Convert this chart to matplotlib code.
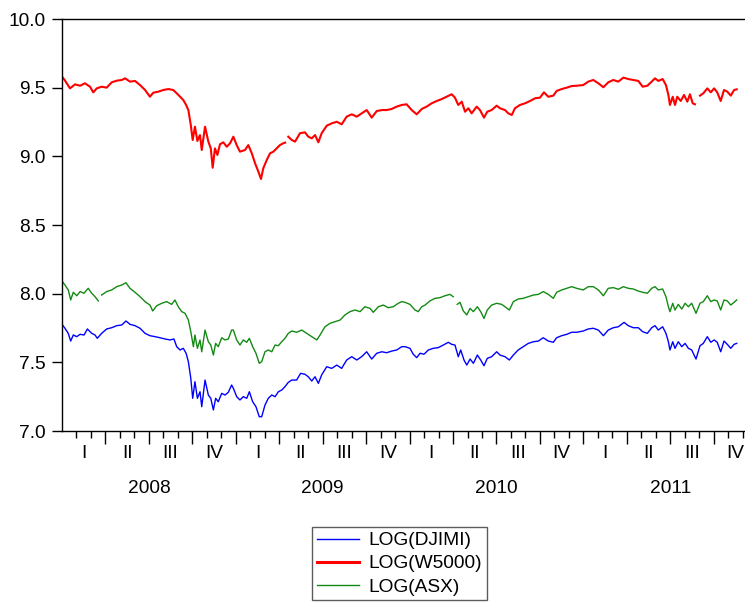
import numpy as np
import matplotlib
matplotlib.use("Agg")
import matplotlib.pyplot as plt
import matplotlib.transforms as mtransforms

plt.rcParams['font.family'] = ['Liberation Sans', 'DejaVu Sans']

NAN = float('nan')
BASE_YEAR = 2008

# ---- LOG(W5000): time (years since 2008-01-01) and value ----
w5000_t = [0.000, 0.015, 0.046, 0.075, 0.104, 0.132, 0.161, 0.180, 0.200, 0.228,
           0.257, 0.286, 0.315, 0.344, 0.363, 0.391, 0.420, 0.449, 0.478, 0.506,
           0.525, 0.554, 0.583, 0.612, 0.640, 0.660, 0.679, 0.698, 0.714, 0.727,
           0.741, 0.752, 0.765, 0.779, 0.794, 0.804, 0.823, 0.842, 0.856, 0.867,
           0.880, 0.894, 0.909, 0.928, 0.948, 0.967, 0.986, 1.005, 1.024, 1.053,
           1.072, 1.092, 1.111, 1.130, 1.145, 1.158, 1.178, 1.197, 1.216, 1.235,
           1.254, 1.273, 1.284, 1.292, 1.302, 1.322, 1.341, 1.369, 1.398, 1.417,
           1.437, 1.456, 1.475, 1.494, 1.523, 1.552, 1.581, 1.609, 1.638, 1.667,
           1.696, 1.724, 1.753, 1.782, 1.811, 1.840, 1.868, 1.897, 1.926, 1.955,
           1.983, 2.012, 2.041, 2.070, 2.098, 2.127, 2.156, 2.185, 2.213, 2.242,
           2.261, 2.280, 2.300, 2.319, 2.338, 2.357, 2.386, 2.405, 2.428, 2.447,
           2.472, 2.501, 2.520, 2.549, 2.568, 2.588, 2.606, 2.635, 2.664, 2.693,
           2.722, 2.750, 2.773, 2.798, 2.827, 2.846, 2.875, 2.904, 2.933, 2.961,
           2.999, 3.028, 3.057, 3.086, 3.115, 3.143, 3.172, 3.201, 3.230, 3.258,
           3.287, 3.316, 3.341, 3.368, 3.393, 3.412, 3.431, 3.456, 3.475, 3.489,
           3.498, 3.514, 3.527, 3.540, 3.560, 3.579, 3.598, 3.613, 3.629, 3.642,
           3.655, 3.671, 3.690, 3.713, 3.733, 3.752, 3.770, 3.790, 3.809, 3.828,
           3.848, 3.867, 3.882]
w5000_v = [9.580, 9.556, 9.495, 9.524, 9.514, 9.532, 9.507, 9.466, 9.495, 9.507,
           9.500, 9.539, 9.551, 9.556, 9.568, 9.544, 9.549, 9.519, 9.483, 9.434,
           9.463, 9.471, 9.483, 9.490, 9.483, 9.459, 9.434, 9.410, 9.374, 9.337,
           9.228, 9.119, 9.216, 9.112, 9.155, 9.046, 9.216, 9.107, 9.058, 8.917,
           9.058, 9.010, 9.088, 9.102, 9.070, 9.095, 9.143, 9.082, 9.034, 9.046,
           9.082, 9.022, 8.949, 8.888, 8.835, 8.913, 8.973, 9.022, 9.034, 9.058,
           9.082, 9.095, 9.100, NAN, 9.143, 9.119, 9.107, 9.168, 9.175, 9.143,
           9.131, 9.155, 9.102, 9.168, 9.223, 9.240, 9.252, 9.233, 9.289, 9.306,
           9.289, 9.313, 9.337, 9.282, 9.330, 9.337, 9.337, 9.345, 9.362, 9.374,
           9.379, 9.337, 9.306, 9.345, 9.362, 9.386, 9.403, 9.417, 9.434, 9.452,
           9.427, 9.374, 9.398, 9.325, 9.350, 9.313, 9.362, 9.337, 9.282, 9.325,
           9.337, 9.369, 9.350, 9.337, 9.313, 9.301, 9.350, 9.374, 9.386, 9.403,
           9.423, 9.427, 9.466, 9.434, 9.442, 9.476, 9.490, 9.500, 9.512, 9.514,
           9.519, 9.544, 9.556, 9.532, 9.503, 9.539, 9.556, 9.544, 9.573, 9.563,
           9.556, 9.549, 9.507, 9.514, 9.544, 9.568, 9.549, 9.563, 9.519, 9.447,
           9.374, 9.434, 9.374, 9.434, 9.403, 9.447, 9.398, 9.452, 9.386, 9.379,
           NAN, 9.442, 9.459, 9.495, 9.466, 9.495, 9.466, 9.403, 9.483, 9.471,
           9.442, 9.483, 9.488]

# ---- LOG(ASX) ----
asx_t = [0.000, 0.017, 0.036, 0.050, 0.065, 0.085, 0.104, 0.127, 0.142, 0.151,
         0.171, 0.190, 0.209, 0.218, 0.228, 0.257, 0.286, 0.315, 0.344, 0.368,
         0.391, 0.420, 0.449, 0.478, 0.506, 0.522, 0.545, 0.574, 0.602, 0.631,
         0.650, 0.669, 0.689, 0.708, 0.727, 0.741, 0.756, 0.765, 0.779, 0.794,
         0.804, 0.823, 0.842, 0.856, 0.871, 0.884, 0.899, 0.919, 0.938, 0.957,
         0.976, 0.986, 1.005, 1.024, 1.043, 1.063, 1.078, 1.097, 1.116, 1.135,
         1.149, 1.168, 1.187, 1.207, 1.226, 1.245, 1.264, 1.283, 1.302, 1.322,
         1.350, 1.379, 1.408, 1.437, 1.466, 1.485, 1.513, 1.542, 1.571, 1.600,
         1.628, 1.657, 1.686, 1.715, 1.743, 1.772, 1.791, 1.820, 1.849, 1.877,
         1.906, 1.935, 1.955, 1.974, 2.002, 2.031, 2.050, 2.070, 2.089, 2.117,
         2.146, 2.175, 2.204, 2.232, 2.251, 2.263, 2.274, 2.290, 2.309, 2.329,
         2.348, 2.367, 2.390, 2.409, 2.428, 2.447, 2.472, 2.501, 2.530, 2.549,
         2.574, 2.597, 2.625, 2.654, 2.683, 2.712, 2.741, 2.769, 2.798, 2.827,
         2.846, 2.875, 2.904, 2.933, 2.961, 2.999, 3.028, 3.057, 3.086, 3.115,
         3.143, 3.172, 3.201, 3.230, 3.258, 3.287, 3.316, 3.341, 3.368, 3.393,
         3.412, 3.431, 3.456, 3.475, 3.489, 3.498, 3.514, 3.527, 3.546, 3.566,
         3.585, 3.604, 3.623, 3.648, 3.671, 3.690, 3.713, 3.733, 3.752, 3.770,
         3.790, 3.809, 3.828, 3.848, 3.867, 3.882]
asx_v = [8.092, 8.063, 8.027, 7.954, 8.010, 7.985, 8.015, 8.003, 8.027, 8.039,
         8.003, 7.978, 7.947, NAN, 7.990, 8.015, 8.027, 8.051, 8.063, 8.080,
         8.039, 8.010, 7.978, 7.942, 7.917, 7.874, 7.912, 7.930, 7.942, 7.922,
         7.954, 7.905, 7.869, 7.857, 7.808, 7.723, 7.614, 7.699, 7.602, 7.663,
         7.577, 7.735, 7.650, 7.626, 7.553, 7.638, 7.614, 7.679, 7.663, 7.670,
         7.735, 7.735, 7.663, 7.626, 7.663, 7.646, 7.675, 7.614, 7.566, 7.493,
         7.505, 7.577, 7.590, 7.577, 7.626, 7.621, 7.650, 7.675, 7.711, 7.728,
         7.719, 7.735, 7.711, 7.687, 7.663, 7.699, 7.759, 7.784, 7.796, 7.808,
         7.845, 7.869, 7.881, 7.869, 7.905, 7.893, 7.864, 7.905, 7.917, 7.898,
         7.905, 7.930, 7.942, 7.937, 7.922, 7.881, 7.869, 7.905, 7.917, 7.947,
         7.966, 7.971, 7.985, 7.995, 7.978, NAN, 7.922, 7.937, 7.874, 7.845,
         7.893, 7.869, 7.905, 7.869, 7.820, 7.881, 7.917, 7.930, 7.922, 7.905,
         7.881, 7.942, 7.961, 7.966, 7.978, 7.990, 7.995, 8.015, 7.995, 7.966,
         8.010, 8.027, 8.039, 8.051, 8.039, 8.027, 8.051, 8.051, 8.027, 7.985,
         8.039, 8.044, 8.032, 8.051, 8.039, 8.034, 8.019, 8.010, 8.003, 8.039,
         8.051, 8.027, 8.034, 7.978, 7.905, 7.869, 7.930, 7.881, 7.922, 7.888,
         7.930, 7.905, 7.930, 7.857, 7.930, 7.942, 7.985, 7.942, 7.954, 7.947,
         7.881, 7.954, 7.947, 7.917, 7.937, 7.954]

# ---- LOG(DJIMI) ----
djimi_t = [0.000, 0.017, 0.036, 0.050, 0.065, 0.085, 0.104, 0.127, 0.146, 0.171,
           0.190, 0.203, 0.228, 0.257, 0.286, 0.315, 0.344, 0.368, 0.391, 0.420,
           0.449, 0.478, 0.506, 0.535, 0.564, 0.593, 0.621, 0.644, 0.660, 0.679,
           0.698, 0.714, 0.727, 0.741, 0.752, 0.765, 0.779, 0.794, 0.804, 0.823,
           0.842, 0.856, 0.871, 0.884, 0.899, 0.919, 0.938, 0.957, 0.976, 0.986,
           1.005, 1.024, 1.043, 1.063, 1.078, 1.097, 1.116, 1.135, 1.149, 1.168,
           1.187, 1.207, 1.226, 1.245, 1.264, 1.283, 1.302, 1.322, 1.350, 1.373,
           1.398, 1.417, 1.437, 1.456, 1.475, 1.494, 1.523, 1.552, 1.581, 1.609,
           1.638, 1.667, 1.696, 1.724, 1.753, 1.782, 1.811, 1.840, 1.868, 1.897,
           1.926, 1.955, 1.974, 2.002, 2.021, 2.041, 2.060, 2.083, 2.108, 2.136,
           2.165, 2.194, 2.223, 2.242, 2.261, 2.280, 2.294, 2.313, 2.329, 2.348,
           2.367, 2.390, 2.409, 2.428, 2.447, 2.472, 2.501, 2.520, 2.549, 2.574,
           2.597, 2.625, 2.654, 2.683, 2.712, 2.741, 2.769, 2.798, 2.827, 2.846,
           2.875, 2.904, 2.933, 2.961, 2.999, 3.028, 3.057, 3.086, 3.115, 3.143,
           3.172, 3.201, 3.234, 3.258, 3.287, 3.316, 3.341, 3.368, 3.393, 3.412,
           3.431, 3.456, 3.475, 3.489, 3.498, 3.514, 3.527, 3.546, 3.566, 3.585,
           3.604, 3.623, 3.648, 3.671, 3.690, 3.713, 3.733, 3.752, 3.770, 3.790,
           3.809, 3.828, 3.848, 3.867, 3.882]
djimi_v = [7.777, 7.748, 7.711, 7.655, 7.699, 7.687, 7.704, 7.699, 7.743, 7.711,
           7.699, 7.675, 7.711, 7.743, 7.752, 7.767, 7.772, 7.801, 7.777, 7.767,
           7.748, 7.711, 7.694, 7.687, 7.679, 7.670, 7.663, 7.670, 7.614, 7.590,
           7.602, 7.566, 7.505, 7.384, 7.238, 7.359, 7.238, 7.286, 7.177, 7.371,
           7.262, 7.238, 7.153, 7.238, 7.213, 7.274, 7.262, 7.282, 7.335, 7.311,
           7.250, 7.226, 7.250, 7.238, 7.286, 7.213, 7.177, 7.104, 7.104, 7.189,
           7.238, 7.262, 7.250, 7.286, 7.298, 7.323, 7.354, 7.371, 7.371, 7.420,
           7.413, 7.395, 7.364, 7.395, 7.347, 7.408, 7.468, 7.456, 7.480, 7.456,
           7.517, 7.541, 7.517, 7.541, 7.577, 7.524, 7.566, 7.577, 7.570, 7.582,
           7.590, 7.614, 7.614, 7.602, 7.559, 7.534, 7.566, 7.559, 7.590, 7.602,
           7.607, 7.626, 7.646, 7.631, 7.626, 7.541, 7.590, 7.517, 7.480, 7.524,
           7.493, 7.553, 7.517, 7.475, 7.529, 7.541, 7.577, 7.553, 7.541, 7.517,
           7.553, 7.590, 7.614, 7.638, 7.650, 7.655, 7.679, 7.655, 7.646, 7.679,
           7.694, 7.704, 7.719, 7.719, 7.728, 7.743, 7.748, 7.735, 7.694, 7.735,
           7.752, 7.759, 7.791, 7.767, 7.752, 7.752, 7.723, 7.711, 7.752, 7.767,
           7.735, 7.759, 7.711, 7.650, 7.590, 7.650, 7.602, 7.650, 7.614, 7.638,
           7.602, 7.590, 7.524, 7.621, 7.638, 7.687, 7.646, 7.663, 7.646, 7.577,
           7.655, 7.631, 7.602, 7.631, 7.638]

years = [2008, 2009, 2010, 2011]
quarter_labels = ["I", "II", "III", "IV"]
y_ticks = [7.0, 7.5, 8.0, 8.5, 9.0, 9.5, 10.0]

FS = 13.8
fig = plt.figure(figsize=(7.45, 6.03), dpi=100)
ax = fig.add_axes([62 / 745, (603 - 431) / 603, (745 - 62) / 745, 412 / 603])

series = [
    ("LOG(DJIMI)", djimi_t, djimi_v, "#0000ff", 1.0),
    ("LOG(W5000)", w5000_t, w5000_v, "#ff0000", 1.5),
    ("LOG(ASX)", asx_t, asx_v, "#138a13", 1.0),
]
handles = []
for name, t, v, col, lw in series:
    h, = ax.plot(BASE_YEAR + np.asarray(t), np.asarray(v, dtype=float),
                 color=col, lw=lw, label=name)
    handles.append(h)

x_end = BASE_YEAR + (745 - 62) / 173.8
ax.set_xlim(BASE_YEAR, x_end)
ax.set_ylim(7.0, 10.0)

for side in ("left", "top", "bottom"):
    ax.spines[side].set_linewidth(1.0)
    ax.spines[side].set_color("black")
ax.spines["right"].set_visible(False)

ax.set_yticks(y_ticks)
ax.set_yticklabels([f"{v:.1f}" for v in y_ticks], fontsize=FS)
ax.tick_params(axis="y", direction="out", length=7, width=1, pad=5)

# quarter boundaries as long ticks, month boundaries as short ticks
q_ticks = [y + q / 4 for y in years for q in range(4) if y + q / 4 > BASE_YEAR]
m_ticks = [y + m / 12 for y in years for m in range(12) if m % 3 != 0]
q_ticks = [q for q in q_ticks if q <= x_end]
m_ticks = [m for m in m_ticks if m <= x_end]
ax.set_xticks(q_ticks)
ax.set_xticks(m_ticks, minor=True)
ax.set_xticklabels([])
ax.tick_params(axis="x", which="major", direction="out", length=9, width=1)
ax.tick_params(axis="x", which="minor", direction="out", length=5, width=1)

trans = mtransforms.blended_transform_factory(ax.transData, ax.transAxes)
for y in years:
    for q, lab in enumerate(quarter_labels):
        ax.text(y + q / 4 + 0.125, -0.054, lab, transform=trans, ha="center",
                va="center", fontsize=FS, clip_on=False)
    ax.text(y + 0.5, -0.1395, str(y), transform=trans, ha="center",
            va="center", fontsize=FS, clip_on=False)

leg = fig.legend(handles=handles, loc="upper left",
                 bbox_to_anchor=(312 / 745, (603 - 527) / 603),
                 borderaxespad=0, fontsize=FS, frameon=True, fancybox=False,
                 handlelength=2.2, handletextpad=0.5, labelspacing=0.3,
                 borderpad=0.25)
leg.get_frame().set_edgecolor("#333333")
leg.get_frame().set_linewidth(1.0)
for lh in leg.get_lines():
    lh.set_linewidth(1.0)
leg.get_lines()[1].set_linewidth(2.2)

fig.savefig("out.png", dpi=100)
